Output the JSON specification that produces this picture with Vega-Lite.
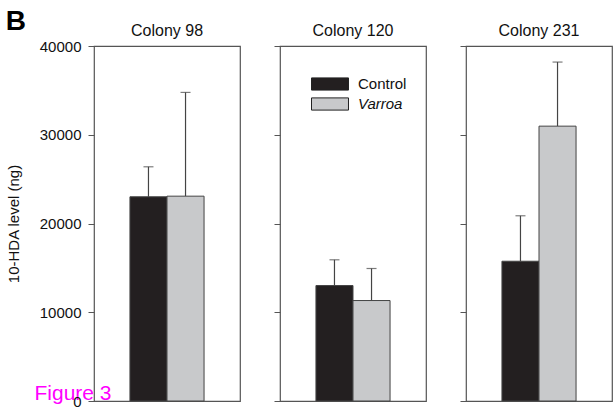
{
  "$schema": "https://vega.github.io/schema/vega-lite/v6.json",
  "background": "white",
  "padding": {"left": 5, "top": 8, "right": 1, "bottom": 8},
  "title": {"text": "B", "anchor": "start", "frame": "bounds", "fontSize": 28, "fontWeight": "bold", "font": "Liberation Sans", "color": "black", "offset": -14.5},
  "config": {
    "font": "Liberation Sans",
    "view": {"stroke": "#555", "strokeWidth": 1.2},
    "title": {"font": "Liberation Sans", "fontSize": 16, "fontWeight": "normal", "color": "#111", "offset": 7},
    "axis": {"labelFont": "Liberation Sans", "titleFont": "Liberation Sans", "labelColor": "#111", "titleColor": "#111", "tickColor": "#555", "domainColor": "#555", "grid": false}
  },
  "datasets": {
    "bars": [
      {"colony": "Colony 98", "group": "Control", "value": 23010, "upper": 26390},
      {"colony": "Colony 98", "group": "Varroa", "value": 23080, "upper": 34770},
      {"colony": "Colony 120", "group": "Control", "value": 13010, "upper": 15910},
      {"colony": "Colony 120", "group": "Varroa", "value": 11320, "upper": 14930},
      {"colony": "Colony 231", "group": "Control", "value": 15750, "upper": 20870},
      {"colony": "Colony 231", "group": "Varroa", "value": 30970, "upper": 38190}
    ]
  },
  "data": {"name": "bars"},
  "spacing": 31,
  "resolve": {"legend": {"color": "independent"}},
  "hconcat": [
    {
      "width": 146, "height": 355,
      "title": {"text": "Colony 98", "offset": 0},
      "transform": [{"filter": "datum.colony === 'Colony 98'"}],
      "encoding": {
        "x": {"field": "group", "type": "nominal", "scale": {"paddingInner": 0, "paddingOuter": 0.97},
              "axis": {"labels": false, "ticks": false, "domain": false, "title": "Figure 3", "titleColor": "#ff00ff", "titleFontSize": 21, "titleFontWeight": "normal", "titleAnchor": "start", "titleAlign": "left", "titleBaseline": "alphabetic", "titleX": -60, "titleY": -2}}
      },
      "layer": [
        {"mark": {"type": "rule", "color": "#444", "strokeWidth": 1.2},
         "encoding": {
           "y": {"field": "value", "type": "quantitative", "scale": {"domain": [0, 40000], "nice": false},
                 "axis": {"values": [0, 10000, 20000, 30000, 40000], "format": "d", "title": "10-HDA level (ng)", "titleFontSize": 15, "titleFontWeight": "normal", "labelFontSize": 15, "tickSize": 6, "labelPadding": 7, "titlePadding": 18, "domain": false}},
           "y2": {"field": "upper"}}},
        {"mark": {"type": "tick", "orient": "horizontal", "size": 10, "thickness": 1.2, "color": "#444"},
         "encoding": {"y": {"field": "upper", "type": "quantitative"}}},
        {"mark": {"type": "bar", "stroke": "#444", "strokeWidth": 1},
         "encoding": {
           "y": {"field": "value", "type": "quantitative"},
           "color": {"field": "group", "type": "nominal", "scale": {"domain": ["Control", "Varroa"], "range": ["#231f20", "#c8c9cb"]}, "legend": null}}}
      ]
    },
    {
      "width": 146, "height": 355,
      "title": "Colony 120",
      "transform": [{"filter": "datum.colony === 'Colony 120'"}],
      "encoding": {
        "x": {"field": "group", "type": "nominal", "scale": {"paddingInner": 0, "paddingOuter": 0.97},
              "axis": {"labels": false, "ticks": false, "domain": false, "title": null}}
      },
      "layer": [
        {"mark": {"type": "rule", "color": "#444", "strokeWidth": 1.2},
         "encoding": {
           "y": {"field": "value", "type": "quantitative", "scale": {"domain": [0, 40000], "nice": false},
                 "axis": {"values": [0, 10000, 20000, 30000, 40000], "labels": false, "title": null, "tickSize": 6, "domain": false}},
           "y2": {"field": "upper"}}},
        {"mark": {"type": "tick", "orient": "horizontal", "size": 10, "thickness": 1.2, "color": "#444"},
         "encoding": {"y": {"field": "upper", "type": "quantitative"}}},
        {"mark": {"type": "bar", "stroke": "#444", "strokeWidth": 1},
         "encoding": {
           "y": {"field": "value", "type": "quantitative"},
           "color": {"field": "group", "type": "nominal", "scale": {"domain": ["Control", "Varroa"], "range": ["#231f20", "#c8c9cb"]},
                     "legend": {"title": null, "orient": "none", "legendX": 40, "legendY": 28, "padding": 0,
                                "symbolType": "M-2,-0.66H2V0.66H-2Z", "symbolSize": 342, "symbolStrokeColor": "#222", "symbolStrokeWidth": 1,
                                "labelFontSize": 15, "labelFont": "Liberation Sans", "labelColor": "#111", "labelOffset": 18, "rowPadding": 1,
                                "encode": {"labels": {"update": {"fontStyle": {"signal": "datum.value === 'Varroa' ? 'italic' : 'normal'"}}}}}}}}
      ]
    },
    {
      "width": 146, "height": 355,
      "title": "Colony 231",
      "transform": [{"filter": "datum.colony === 'Colony 231'"}],
      "encoding": {
        "x": {"field": "group", "type": "nominal", "scale": {"paddingInner": 0, "paddingOuter": 0.97},
              "axis": {"labels": false, "ticks": false, "domain": false, "title": null}}
      },
      "layer": [
        {"mark": {"type": "rule", "color": "#444", "strokeWidth": 1.2},
         "encoding": {
           "y": {"field": "value", "type": "quantitative", "scale": {"domain": [0, 40000], "nice": false},
                 "axis": {"values": [0, 10000, 20000, 30000, 40000], "labels": false, "title": null, "tickSize": 6, "domain": false}},
           "y2": {"field": "upper"}}},
        {"mark": {"type": "tick", "orient": "horizontal", "size": 10, "thickness": 1.2, "color": "#444"},
         "encoding": {"y": {"field": "upper", "type": "quantitative"}}},
        {"mark": {"type": "bar", "stroke": "#444", "strokeWidth": 1},
         "encoding": {
           "y": {"field": "value", "type": "quantitative"},
           "color": {"field": "group", "type": "nominal", "scale": {"domain": ["Control", "Varroa"], "range": ["#231f20", "#c8c9cb"]}, "legend": null}}}
      ]
    }
  ]
}
